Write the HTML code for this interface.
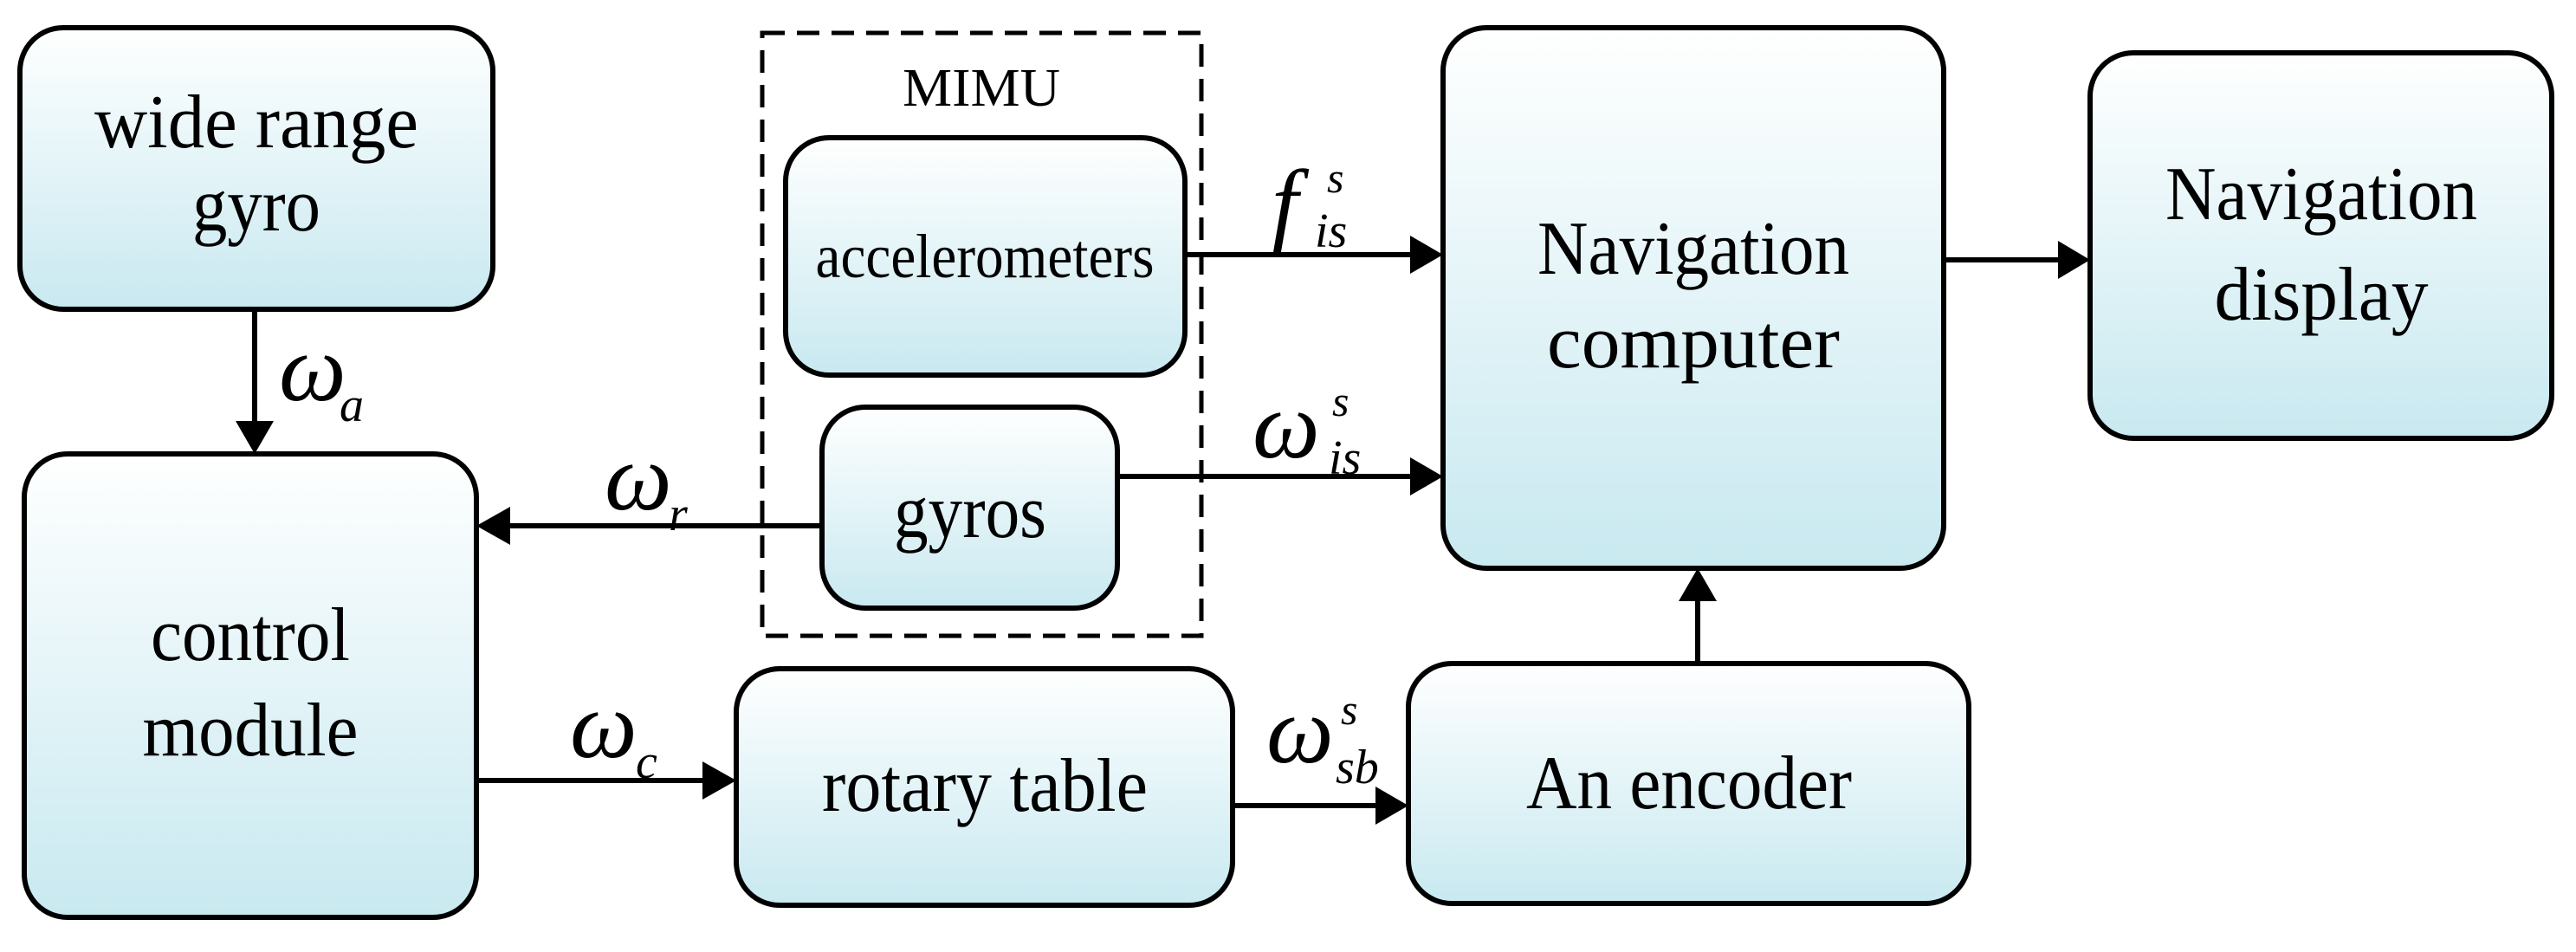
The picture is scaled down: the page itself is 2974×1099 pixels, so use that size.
<!DOCTYPE html>
<html><head><meta charset="utf-8"><style>html,body{margin:0;padding:0;background:#fff}svg{display:block}</style></head>
<body>
<svg width="2974" height="1099" viewBox="0 0 2974 1099" xmlns="http://www.w3.org/2000/svg" font-family="'Liberation Serif', serif">
<defs>
<linearGradient id="g" x1="0" y1="0" x2="0" y2="1"><stop offset="0" stop-color="#ffffff"/><stop offset="1" stop-color="#c8e9f0"/></linearGradient>
</defs>
<g fill="url(#g)" stroke="#000" stroke-width="6">
<rect x="23" y="32" width="546" height="325" rx="50"/>
<rect x="28" y="524" width="522" height="535" rx="50"/>
<rect x="907" y="159" width="461" height="274" rx="50"/>
<rect x="949" y="470" width="341" height="232" rx="50"/>
<rect x="850" y="772" width="573" height="273" rx="50"/>
<rect x="1666" y="32" width="578" height="624" rx="50"/>
<rect x="2413" y="61" width="533" height="445" rx="50"/>
<rect x="1626" y="766" width="647" height="277" rx="50"/>
</g>
<rect x="880" y="38" width="507" height="696" fill="none" stroke="#000" stroke-width="5" stroke-dasharray="26,14"/>
<g stroke="#000" stroke-width="6" fill="none">
<line x1="294" y1="357" x2="294" y2="490"/>
<line x1="949" y1="607" x2="585" y2="607"/>
<line x1="550" y1="901" x2="815" y2="901"/>
<line x1="1423" y1="930" x2="1592" y2="930"/>
<line x1="1368" y1="294" x2="1632" y2="294"/>
<line x1="1290" y1="550" x2="1632" y2="550"/>
<line x1="2244" y1="300" x2="2380" y2="300"/>
<line x1="1960" y1="766" x2="1960" y2="690"/>
</g>
<g fill="#000">
<path d="M272,486 L316,486 L294,524 z"/>
<path d="M589,585 L589,629 L550,607 z"/>
<path d="M811,879 L811,923 L850,901 z"/>
<path d="M1588,908 L1588,952 L1626,930 z"/>
<path d="M1628,272 L1628,316 L1666,294 z"/>
<path d="M1628,528 L1628,572 L1666,550 z"/>
<path d="M2376,278 L2376,322 L2413,300 z"/>
<path d="M1938,694 L1982,694 L1960,656 z"/>
</g>
<g font-size="88" text-anchor="middle" fill="#000">
<text x="296" y="170" textLength="374" lengthAdjust="spacingAndGlyphs">wide range</text>
<text x="296" y="266" textLength="148" lengthAdjust="spacingAndGlyphs">gyro</text>
<text x="1137" y="320" font-size="72" textLength="391" lengthAdjust="spacingAndGlyphs">accelerometers</text>
<text x="1120" y="620" textLength="176" lengthAdjust="spacingAndGlyphs">gyros</text>
<text x="289" y="762" textLength="230" lengthAdjust="spacingAndGlyphs">control</text>
<text x="289" y="872" textLength="249" lengthAdjust="spacingAndGlyphs">module</text>
<text x="1137" y="936" textLength="376" lengthAdjust="spacingAndGlyphs">rotary table</text>
<text x="1955" y="316" textLength="360" lengthAdjust="spacingAndGlyphs">Navigation</text>
<text x="1955" y="424" textLength="338" lengthAdjust="spacingAndGlyphs">computer</text>
<text x="2680" y="253" textLength="360" lengthAdjust="spacingAndGlyphs">Navigation</text>
<text x="2680" y="369" textLength="247" lengthAdjust="spacingAndGlyphs">display</text>
<text x="1950" y="933" textLength="376" lengthAdjust="spacingAndGlyphs">An encoder</text>
<text x="1133" y="122" font-size="62" textLength="182" lengthAdjust="spacingAndGlyphs">MIMU</text>
</g>
<g font-style="italic" fill="#000">
<text x="322" y="462" font-size="110">ω</text><text x="392" y="486" font-size="56">a</text>
<text x="698" y="588" font-size="110">ω</text><text x="772" y="612" font-size="56">r</text>
<text x="658" y="874" font-size="110">ω</text><text x="734" y="898" font-size="56">c</text>
<text x="1462" y="880" font-size="110">ω</text><text x="1548" y="836" font-size="50">s</text><text x="1542" y="904" font-size="56">sb</text>
<text x="1468" y="272" font-size="110">f</text><text x="1532" y="222" font-size="50">s</text><text x="1518" y="285" font-size="56">is</text>
<text x="1446" y="528" font-size="110">ω</text><text x="1538" y="480" font-size="50">s</text><text x="1534" y="547" font-size="56">is</text>
</g>
</svg>
</body></html>
